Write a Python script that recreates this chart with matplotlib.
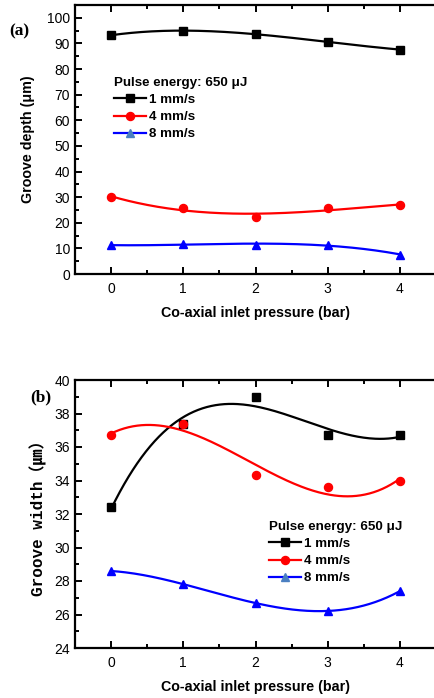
import numpy as np
import matplotlib.pyplot as plt
from matplotlib.lines import Line2D
from matplotlib.ticker import MultipleLocator

# inlet pressure (bar)
pressure = [0, 1, 2, 3, 4]

# groove depth (um), pulse energy 650 uJ
depth_1 = [93.2, 95.0, 93.6, 90.6, 87.6]
depth_4 = [30.1, 25.8, 22.1, 25.8, 26.9]
depth_8 = [11.2, 11.7, 11.5, 11.3, 7.6]

# groove width (um)
width_1 = [32.4, 37.4, 39.0, 36.7, 36.7]
width_4 = [36.7, 37.4, 34.3, 33.6, 34.0]
width_8 = [28.6, 27.8, 26.7, 26.2, 27.4]

labels = ['1 mm/s', '4 mm/s', '8 mm/s']
colors = ['black', 'red', 'blue']
markers = ['s', 'o', '^']
legend_title = 'Pulse energy: 650 \u03bcJ'

plt.rcParams['font.family'] = ['Liberation Sans', 'DejaVu Sans']

fig = plt.figure(figsize=(4.34, 6.98), dpi=100)
W, H = 434.0, 698.0
MS = 5.8


def make_axes(left, top, right, bottom):
    return fig.add_axes([left / W, 1 - bottom / H, (right - left) / W, (bottom - top) / H])


def style(ax):
    for s in ['left', 'bottom', 'top', 'right']:
        ax.spines[s].set_linewidth(1.6)
    ax.tick_params(which='both', direction='in', top=True, right=False, width=1.4,
                   labelsize=10)
    ax.tick_params(axis='x', pad=6)
    ax.tick_params(which='major', length=5)
    ax.tick_params(which='minor', length=3)
    ax.set_xlim(-0.5, 4.5)
    ax.set_xticks(pressure)
    ax.xaxis.set_minor_locator(MultipleLocator(0.5))
    ax.set_xlabel('Co-axial inlet pressure (bar)', fontsize=10.3, fontweight='bold', labelpad=7)


def fit_curve(ax, y, color, deg=3):
    c = np.polyfit(pressure, y, deg)
    xs = np.linspace(0, 4, 200)
    ax.plot(xs, np.polyval(c, xs), color=color, lw=1.6, zorder=2)


def legend(ax, x, y, tri_color):
    handles = []
    for lab, col, mk in zip(labels, colors, markers):
        mc = tri_color if mk == '^' else col
        handles.append(Line2D([], [], color=col, marker=mk, markersize=MS, lw=1.6,
                              markerfacecolor=mc, markeredgecolor=mc, label=lab))
    lg = ax.legend(handles=handles, loc='upper left', bbox_to_anchor=(x / W, 1 - y / H),
                   bbox_transform=fig.transFigure, frameon=False,
                   title=legend_title, handlelength=2.4, handletextpad=0.2,
                   labelspacing=0.36, borderpad=0, borderaxespad=0, alignment='left',
                   prop={'weight': 'bold', 'size': 9.6})
    lg.get_title().set_fontweight('bold')
    lg.get_title().set_fontsize(9.6)
    return lg


# (a) groove depth
ax1 = make_axes(75, 5, 436, 274)
style(ax1)
ax1.set_ylim(0, 105)
ax1.set_yticks(range(0, 101, 10))
ax1.yaxis.set_minor_locator(MultipleLocator(5))
for y, c, m in zip([depth_1, depth_4, depth_8], colors, markers):
    fit_curve(ax1, y, c)
    ax1.plot(pressure, y, ls='none', marker=m, color=c, markersize=MS, zorder=3)
ax1.set_ylabel('Groove depth (\u03bcm)', fontsize=10.3, fontweight='bold')
ax1.yaxis.set_label_coords(-(75 - 35) / 361.0, 0.5)
legend(ax1, 114, 77, '#4a7fc1')
fig.text(9 / W, 1 - 31 / H, '(a)', family='Liberation Serif', fontweight='bold',
         fontsize=12.5, va='center')

# (b) groove width
ax2 = make_axes(75, 380, 436, 648)
style(ax2)
ax2.set_ylim(24, 40)
ax2.set_yticks(range(24, 41, 2))
ax2.yaxis.set_minor_locator(MultipleLocator(1))
for y, c, m in zip([width_1, width_4, width_8], colors, markers):
    fit_curve(ax2, y, c)
    ax2.plot(pressure, y, ls='none', marker=m, color=c, markersize=MS, zorder=3)
ax2.set_ylabel('Groove width\uff08\u339b\uff09', fontsize=11.5, fontweight='bold',
               family=['Liberation Mono', 'Noto Sans CJK SC'])
ax2.yaxis.set_label_coords(-(75 - 47) / 361.0, 0.5)
legend(ax2, 269, 521, '#4a7fc1')
fig.text(30 / W, 1 - 397 / H, '(b)', family='Liberation Serif', fontweight='bold',
         fontsize=12.5, va='center')

fig.savefig('out.png', dpi=100)
